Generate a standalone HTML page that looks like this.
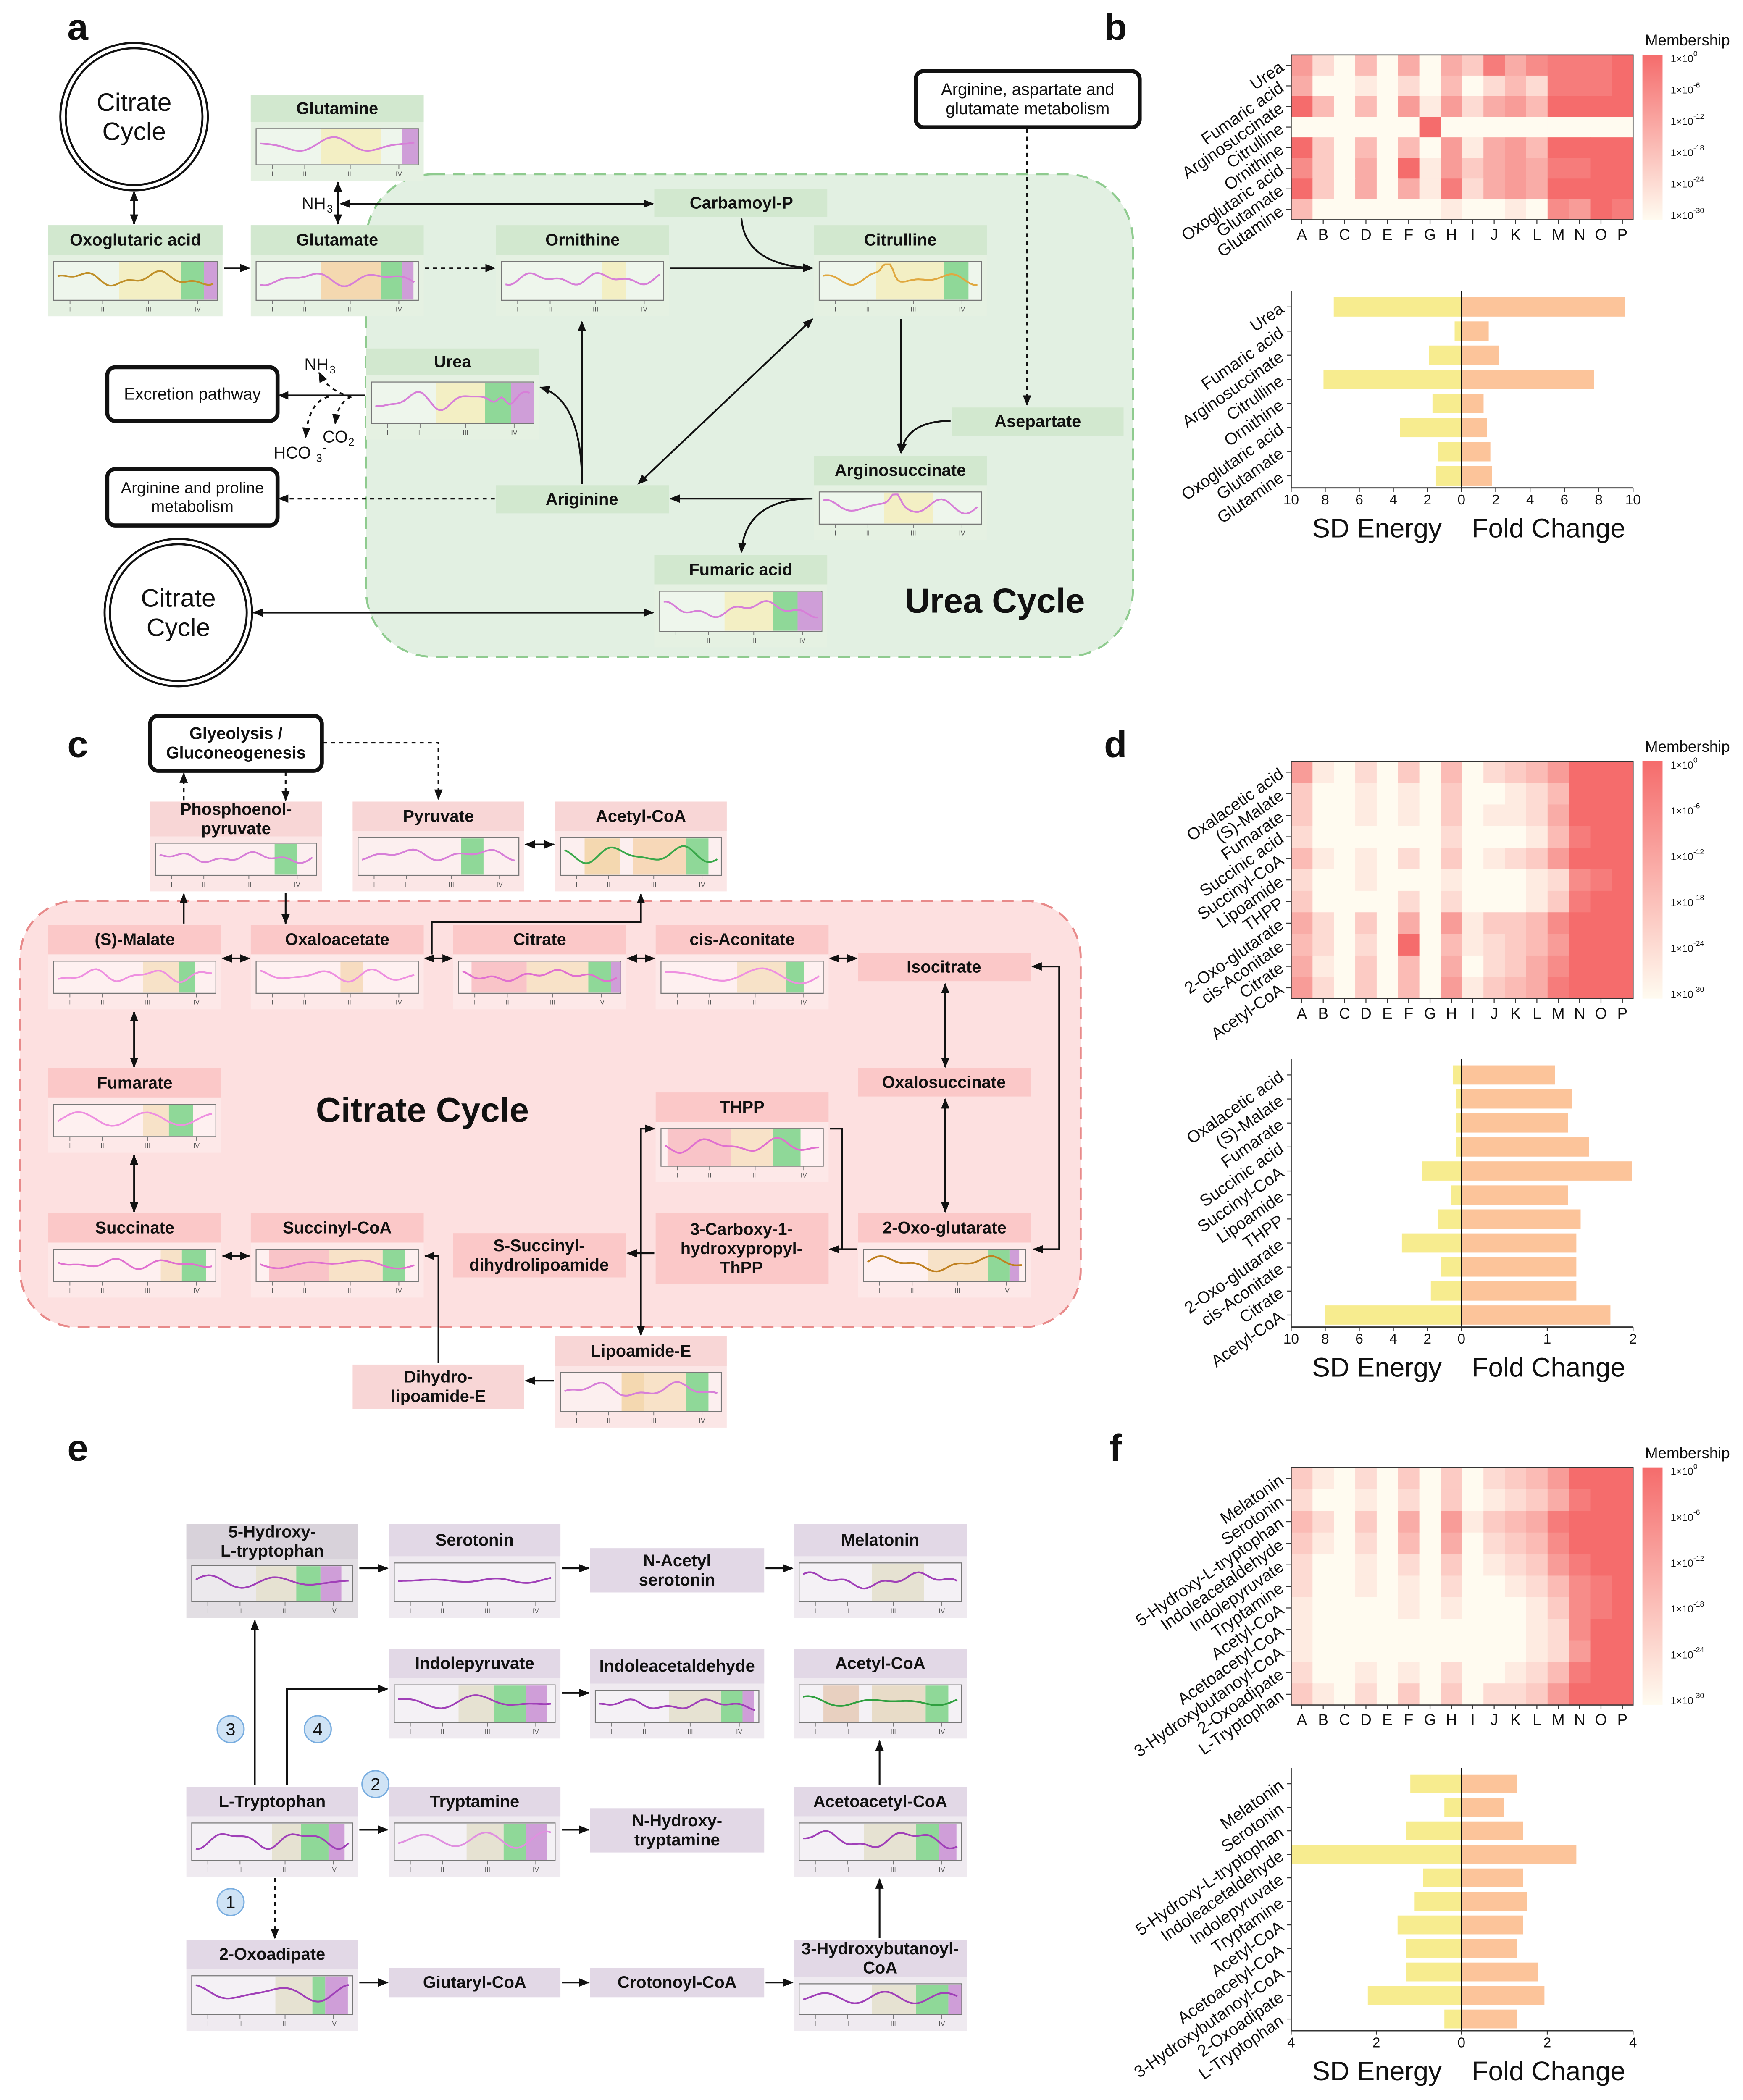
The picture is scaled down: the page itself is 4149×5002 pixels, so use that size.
<!DOCTYPE html>
<html><head><meta charset="utf-8"><style>
html,body{margin:0;padding:0;background:#fff;width:4149px;height:5002px;overflow:hidden}
svg{display:block}
text{font-family:"Liberation Sans",Arial,sans-serif}
</style></head><body>
<svg id="s" xmlns="http://www.w3.org/2000/svg" width="4149" height="5002" viewBox="0 0 1300 1567.3">
<defs>
<marker id="ah" viewBox="0 0 10 10" refX="9" refY="5" markerWidth="6" markerHeight="6" orient="auto-start-reverse"><path d="M0,1 L10,5 L0,9 z" fill="#111"/></marker>
<linearGradient id="cb" x1="0" y1="0" x2="0" y2="1"><stop offset="0" stop-color="#f56c6c"/><stop offset="1" stop-color="#fffbf0"/></linearGradient>
</defs>
<rect x="0" y="0" width="1300" height="1568" fill="#fff"/>
<rect x="273" y="130" width="572" height="360" rx="50" fill="#e2f0e2" stroke="#8fcb8f" stroke-width="1.5" stroke-dasharray="9,6"/>
<rect x="15" y="672" width="791" height="318" rx="42" fill="#fde0e0" stroke="#e88a8a" stroke-width="1.5" stroke-dasharray="9,6"/>
<g id="g"></g>
</svg>
<script>
var NS="http://www.w3.org/2000/svg",G=document.getElementById("g");
function el(tag,a,txt){var e=document.createElementNS(NS,tag);for(var k in a)e.setAttribute(k,a[k]);if(txt!=null)e.textContent=txt;G.appendChild(e);return e;}
function T(x,y,s,sz,o){o=o||{};var lines=String(s).split("\n");var lh=sz*1.15;var y0=y-(lines.length-1)*lh/2;
 lines.forEach(function(l,i){el("text",{x:x,y:y0+i*lh,"font-size":sz,"text-anchor":o.a||"middle","dominant-baseline":"central","font-weight":o.b?"bold":"normal",fill:o.c||"#111",transform:o.tr||""},l);});}
function L(d,o){o=o||{};var a={d:d,fill:"none",stroke:"#111","stroke-width":o.w||1.3};if(o.dash)a["stroke-dasharray"]="3,3";if(o.e!==false)a["marker-end"]="url(#ah)";if(o.s)a["marker-start"]="url(#ah)";el("path",a);}
var seed=1;function rnd(){seed=(seed*9301+49297)%233280;return seed/233280;}
function chart(x,y,w,h,bands,col,sd,peak){
 el("rect",{x:x,y:y,width:w,height:h,fill:"rgba(255,255,255,0.35)",stroke:"#777","stroke-width":0.7});
 bands.forEach(function(b){el("rect",{x:x+w*b[0],y:y+0.5,width:w*(b[1]-b[0]),height:h-1,fill:b[2]});});
 seed=sd;var a1=8+rnd()*10,a2=15+rnd()*15,p1=rnd()*6,p2=rnd()*6,am=0.08+rnd()*0.1;var d="";
 for(var i=0;i<=60;i++){var t=i/60;var v=0.45+am*Math.sin(t*a1+p1)+0.07*Math.sin(t*a2+p2);
  if(peak){var dd=(t-peak[0])/0.04;v-=peak[1]*Math.exp(-dd*dd);}
  var px=x+3+t*(w-6),py=y+h*Math.min(0.92,Math.max(0.08,v));d+=(i?"L":"M")+px.toFixed(1)+","+py.toFixed(1);}
 el("path",{d:d,fill:"none",stroke:col,"stroke-width":1.3});
 [0.1,0.3,0.58,0.88].forEach(function(f,i){el("line",{x1:x+w*f,y1:y+h,x2:x+w*f,y2:y+h+3,stroke:"#777","stroke-width":0.6});
  T(x+w*f,y+h+7,["I","II","III","IV"][i],5,{c:"#555"});});
}
function node(x,y,w,h,lab,hc,bc,hh,ch){
 el("rect",{x:x,y:y,width:w,height:h,fill:bc});
 el("rect",{x:x,y:y,width:w,height:hh,fill:hc});
 T(x+w/2,y+hh/2,lab,12.5,{b:1});
 if(ch)chart(x+4,y+hh+5,w-8,h-hh-17,ch[0],ch[1],ch[2],ch[3]);
}
function box2(x,y,w,h,lab,sz){el("rect",{x:x,y:y,width:w,height:h,rx:6,fill:"#fff",stroke:"#111","stroke-width":3});
 el("rect",{x:x+2.5,y:y+2.5,width:w-5,height:h-5,rx:4,fill:"#fff",stroke:"#fff","stroke-width":1.2});
 T(x+w/2,y+h/2,lab,sz||12.5,{b:sz?0:1});}
function circ(cx,cy,r,lab){el("circle",{cx:cx,cy:cy,r:r,fill:"#fff",stroke:"#111","stroke-width":1.5});el("circle",{cx:cx,cy:cy,r:r-4,fill:"#fff",stroke:"#111","stroke-width":1.5});T(cx,cy,lab,19);}
var Y="#f3efc4",O="#f4d8b0",GR="#8fd898",P="#cf9ed8",PK="#f8c8c8",GY="#e6e2d2";
T(58,20,"a",28,{b:1});T(832,20,"b",28,{b:1});
circ(100,87,55,"Citrate\nCycle");circ(133,457,55,"Citrate\nCycle");
var ha="#d2e8cf",ba="#e5f1e2";
node(187,71,129,64,"Glutamine",ha,ba,20,[[[0.4,0.77,Y],[0.9,1,P]],"#d77fd8",3]);
node(36,168,130,68,"Oxoglutaric acid",ha,ba,22,[[[0.4,0.78,Y],[0.78,0.92,GR],[0.92,1,P]],"#c0902a",5]);
node(187,168,129,68,"Glutamate",ha,ba,22,[[[0.4,0.77,O],[0.77,0.9,GR],[0.9,0.97,P]],"#d77fd8",7]);
node(370,168,129,68,"Ornithine",ha,ba,22,[[[0.62,0.77,Y]],"#d77fd8",11]);
node(607,168,129,68,"Citrulline",ha,ba,22,[[[0.35,0.77,Y],[0.77,0.92,GR]],"#e0a840",13,[0.42,0.5]]);
node(273,260,129,68,"Urea",ha,ba,20,[[[0.4,0.7,Y],[0.7,0.86,GR],[0.86,1,P]],"#d77fd8",17,[0.82,0.3]]);
node(607,340,129,63,"Arginosuccinate",ha,ba,22,[[[0.4,0.7,Y]],"#d77fd8",19,[0.47,0.35]]);
node(488,414,129,69,"Fumaric acid",ha,ba,22,[[[0.4,0.7,Y],[0.7,0.85,GR],[0.85,1,P]],"#d77fd8",23]);
el("rect",{x:488,y:141,width:129,height:21,fill:ha});T(553,151.5,"Carbamoyl-P",12.5,{b:1});
el("rect",{x:370,y:362,width:129,height:21,fill:ha});T(434,372.5,"Ariginine",12.5,{b:1});
el("rect",{x:710,y:304,width:128,height:21,fill:ha});T(774,314.5,"Asepartate",12.5,{b:1});
box2(80,274,127,40,"Excretion pathway",12.5);
box2(80,350,127,42,"Arginine and proline\nmetabolism",12);
box2(683,53,167,42,"Arginine, aspartate and\nglutamate metabolism",12.5);
T(742,448,"Urea Cycle",26,{b:1});
T(234,152,"NH",12.5);T(246,156,"3",8);T(236,272,"NH",12.5);T(248,276,"3",8);
T(250,326,"CO",12.5);T(262,330,"2",8);T(218,338,"HCO",12.5);T(238,342,"3",8);T(242,334,"-",8);
L("M100,143 V167",{s:1});L("M252,136 V167",{s:1});L("M254,152 H487",{s:1});
L("M167,200 H186");L("M317,200 H369",{dash:1});L("M500,200 H606");
L("M553,163 Q556,198 606,200");L("M672,238 V338");L("M709,314 Q676,314 672,338");
L("M766,96 V302",{dash:1});L("M606,372 H500");L("M606,372 Q556,372 553,412");
L("M434,361 V240");L("M476,361 L606,238",{s:1});L("M434,361 Q434,298 403,289");
L("M272,295 H208");L("M369,372 H208",{dash:1});L("M189,457 H487",{s:1});
L("M262,296 Q245,292 238,278",{dash:1});L("M262,296 Q252,300 250,316",{dash:1});L("M245,296 Q230,300 228,326",{dash:1});
T(58,555,"c",28,{b:1});T(832,555,"d",28,{b:1});
var hp="#fbc8c8",bp="#fde8e8",hp2="#f8d6d6",bp2="#fbe6e6";
box2(112,534,128,41,"Glyeolysis /\nGluconeogenesis");
node(112,598,128,67,"Phosphoenol-\npyruvate",hp2,bp2,26,[[[0.74,0.88,GR]],"#d77fd8",29]);
node(263,598,128,67,"Pyruvate",hp2,bp2,22,[[[0.64,0.78,GR]],"#d77fd8",31]);
node(414,598,128,67,"Acetyl-CoA",hp2,bp2,22,[[[0.15,0.37,O],[0.45,0.78,"#f7d8b8"],[0.78,0.92,GR]],"#3aa84a",37]);
node(36,690,129,63,"(S)-Malate",hp,bp,22,[[[0.55,0.77,"#f7e2c8"],[0.77,0.87,GR]],"#ee90e0",41]);
node(187,690,129,63,"Oxaloacetate",hp,bp,22,[[[0.52,0.66,"#f7dcc0"]],"#ee90e0",43]);
node(338,690,129,63,"Citrate",hp,bp,22,[[[0.08,0.42,"#f9c4c8"],[0.42,0.8,"#f8e2c8"],[0.8,0.94,GR],[0.94,1,P]],"#e070d0",47]);
node(489,690,129,63,"cis-Aconitate",hp,bp,22,[[[0.47,0.77,"#f7e2c8"],[0.77,0.88,GR]],"#ee90e0",53]);
node(36,797,129,63,"Fumarate",hp,bp,22,[[[0.55,0.71,"#f7e2c8"],[0.71,0.86,GR]],"#ee90e0",59]);
node(489,815,129,67,"THPP",hp,bp,22,[[[0.04,0.43,"#f9c4c8"],[0.43,0.69,"#f8e2c8"],[0.69,0.86,GR]],"#e070d0",61]);
node(36,905,129,63,"Succinate",hp,bp,22,[[[0.66,0.79,"#f7e2c8"],[0.79,0.94,GR]],"#e070d0",67]);
node(187,905,129,63,"Succinyl-CoA",hp,bp,22,[[[0.08,0.45,"#f9c4c8"],[0.45,0.78,"#f8e2c8"],[0.78,0.92,GR]],"#e070d0",71]);
node(640,905,129,63,"2-Oxo-glutarate",hp,bp,22,[[[0.4,0.77,"#f7e2c8"],[0.77,0.9,GR],[0.9,0.96,P]],"#c08020",73]);
node(414,997,128,68,"Lipoamide-E",hp2,bp2,22,[[[0.38,0.52,O],[0.52,0.78,"#f8e2c8"],[0.78,0.92,GR]],"#d77fd8",79]);
el("rect",{x:640,y:711,width:129,height:21,fill:hp});T(704,721.5,"Isocitrate",12.5,{b:1});
el("rect",{x:640,y:797,width:129,height:21,fill:hp});T(704,807.5,"Oxalosuccinate",12.5,{b:1});
el("rect",{x:338,y:920,width:129,height:33,fill:hp});T(402,936.5,"S-Succinyl-\ndihydrolipoamide",12.5,{b:1});
el("rect",{x:489,y:905,width:129,height:53,fill:hp});T(553,931.5,"3-Carboxy-1-\nhydroxypropyl-\nThPP",12.5,{b:1});
el("rect",{x:263,y:1018,width:128,height:33,fill:hp2});T(327,1034.5,"Dihydro-\nlipoamide-E",12.5,{b:1});
T(315,828,"Citrate Cycle",26,{b:1});
L("M137,597 V577",{dash:1});L("M213,576 V597",{dash:1});L("M241,554 H327 V596",{dash:1});
L("M137,689 V667");L("M213,666 V689");L("M392,630 H413",{s:1});
L("M166,715 H186",{s:1});L("M317,715 H337",{s:1});L("M322,712 V688 H478 V667",{e:1});L("M468,715 H488",{s:1});L("M619,715 H639",{s:1});
L("M705,734 V796",{s:1});L("M705,820 V904",{s:1});L("M770,721 H790 V932 H771",{s:1});
L("M639,932 H619");L("M619,842 H628 V932",{e:false});L("M488,935 H468");
L("M488,842 H478 V996",{s:1});L("M413,1030 H392");L("M327,1017 V937 H317");
L("M100,755 V796",{s:1});L("M100,862 V904",{s:1});L("M166,937 H186",{s:1});
T(58,1080,"e",28,{b:1});T(832,1080,"f",28,{b:1});
var he="#e2d8e6",be="#efeaf0",V="#a040b8",V2="#d77fd8";
node(139,1137,128,70,"5-Hydroxy-\nL-tryptophan","#d8d2da","#e2dee3",26,[[[0.4,0.65,GY],[0.65,0.8,GR],[0.8,0.93,P]],V,83]);
node(290,1137,128,70,"Serotonin",he,be,24,[[],V,89]);
node(592,1137,129,70,"Melatonin",he,be,24,[[[0.45,0.77,GY]],V,97]);
node(290,1230,128,67,"Indolepyruvate",he,be,22,[[[0.4,0.62,GY],[0.62,0.82,GR],[0.82,0.95,P]],V,101]);
node(440,1230,130,67,"Indoleacetaldehyde",he,be,26,[[[0.45,0.77,GY],[0.77,0.9,GR],[0.9,0.97,P]],V,103]);
node(592,1230,129,67,"Acetyl-CoA",he,be,22,[[[0.15,0.37,"#e8d0c0"],[0.45,0.78,"#e8dcc8"],[0.78,0.92,GR]],"#30a040",107]);
node(139,1333,128,67,"L-Tryptophan",he,be,22,[[[0.5,0.68,GY],[0.68,0.85,GR],[0.85,0.95,P]],V,109]);
node(290,1333,128,67,"Tryptamine",he,be,22,[[[0.45,0.68,GY],[0.68,0.82,GR],[0.82,0.95,P]],"#e090e0",113]);
node(592,1333,129,67,"Acetoacetyl-CoA",he,be,22,[[[0.4,0.72,GY],[0.72,0.86,GR],[0.86,0.97,P]],V,127]);
node(139,1447,128,68,"2-Oxoadipate",he,be,22,[[[0.52,0.75,GY],[0.75,0.83,GR],[0.83,0.97,P]],V,131]);
node(592,1447,129,68,"3-Hydroxybutanoyl-\nCoA",he,be,28,[[[0.45,0.72,GY],[0.72,0.92,GR],[0.92,1,P]],V,137]);
el("rect",{x:440,y:1155,width:130,height:33,fill:he});T(505,1171.5,"N-Acetyl\nserotonin",12.5,{b:1});
el("rect",{x:440,y:1349,width:130,height:33,fill:he});T(505,1365.5,"N-Hydroxy-\ntryptamine",12.5,{b:1});
el("rect",{x:290,y:1468,width:128,height:22,fill:he});T(354,1479,"Giutaryl-CoA",12.5,{b:1});
el("rect",{x:440,y:1468,width:130,height:22,fill:he});T(505,1479,"Crotonoyl-CoA",12.5,{b:1});
L("M268,1170 H289");L("M419,1170 H439");L("M571,1170 H591");L("M419,1263 H439");
L("M190,1332 V1209");L("M214,1332 V1260 H289");L("M268,1365 H289");L("M419,1365 H439");
L("M205,1401 V1446",{dash:1});L("M268,1479 H289");L("M419,1479 H439");L("M571,1479 H591");
L("M656,1332 V1299");L("M656,1446 V1402");
[[172,1419,"1"],[280,1331,"2"],[172,1290,"3"],[237,1290,"4"]].forEach(function(c){el("circle",{cx:c[0],cy:c[1],r:10,fill:"#cfe3f5",stroke:"#7aaee0","stroke-width":1});T(c[0],c[1],c[2],13);});
function hcol(v){var a=[255,251,240],b=[245,108,108];var f=v/9;return "rgb("+a.map(function(c,i){return Math.round(c+(b[i]-c)*f)}).join(",")+")";}
function hm(x,y,w,h,labs,rows){var n=rows.length,cw=w/16,rh=h/n;
 rows.forEach(function(r,i){for(var j=0;j<16;j++){el("rect",{x:x+j*cw,y:y+i*rh,width:cw+0.3,height:rh+0.3,fill:hcol(+r[j])});}
  el("line",{x1:x-4,y1:y+(i+.5)*rh,x2:x,y2:y+(i+.5)*rh,stroke:"#333","stroke-width":0.7});
  T(x-7,y+(i+.5)*rh,labs[i],12.5,{a:"end",tr:"rotate(-35 "+(x-7)+" "+(y+(i+.5)*rh)+")"});});
 el("rect",{x:x,y:y,width:w,height:h,fill:"none",stroke:"#333","stroke-width":0.8});
 "ABCDEFGHIJKLMNOP".split("").forEach(function(c,j){el("line",{x1:x+(j+.5)*cw,y1:y+h,x2:x+(j+.5)*cw,y2:y+h+3,stroke:"#333","stroke-width":0.7});T(x+(j+.5)*cw,y+h+11,c,11.5);});
 el("rect",{x:1225,y:y,width:15,height:h,fill:"url(#cb)"});T(1227,y-11,"Membership",11.5,{a:"start"});
 ["0","-6","-12","-18","-24","-30"].forEach(function(e,k){var yy=y+3+k*(h-6)/5;T(1246,yy,"1×10",7.5,{a:"start"});T(1263,yy-4,e,5.5,{a:"start"});});
}
function bars(y0,y1,labs,sd,fc,sm,fm,tl,tr){var x0=963,xc=1090,x1=1218,n=labs.length,rh=(y1-y0)/n;
 labs.forEach(function(l,i){var yc=y0+(i+.5)*rh;
  el("rect",{x:xc-127*sd[i]/sm,y:yc-rh*0.4,width:127*sd[i]/sm,height:rh*0.8,fill:"#f7ec8f"});
  el("rect",{x:xc,y:yc-rh*0.4,width:127*fc[i]/fm,height:rh*0.8,fill:"#fcc49a"});
  el("line",{x1:x0-3,y1:yc,x2:x0,y2:yc,stroke:"#333","stroke-width":0.7});
  T(x0-7,yc,l,12.5,{a:"end",tr:"rotate(-35 "+(x0-7)+" "+yc+")"});});
 el("line",{x1:xc,y1:y0-3,x2:xc,y2:y1,stroke:"#111","stroke-width":1});
 el("path",{d:"M"+x0+","+(y0-3)+" V"+y1+" H"+x1,fill:"none",stroke:"#333","stroke-width":0.9});
 tl.forEach(function(t,k){var xx=x0+k*(xc-x0)/(tl.length-1);el("line",{x1:xx,y1:y1,x2:xx,y2:y1+3,stroke:"#333","stroke-width":0.7});T(xx,y1+9,t,10.5);});
 tr.forEach(function(t,k){if(!k)return;var xx=xc+k*(x1-xc)/(tr.length-1);el("line",{x1:xx,y1:y1,x2:xx,y2:y1+3,stroke:"#333","stroke-width":0.7});T(xx,y1+9,t,10.5);});
 T(1027,y1+30,"SD Energy",20);T(1155,y1+30,"Fold Change",20);}
var lb=["Urea","Fumaric acid","Arginosuccinate","Citrulline","Ornithine","Oxoglutaric acid","Glutamate","Glutamine"];
hm(963,41,255,123,lb,["6204050538578889","5001020402428889","9404061625649999","0000009000000000","9304040615649999","7305091635658899","9305051825659999","4000000100107698"]);
bars(220,364,lb,[7.5,0.4,1.9,8.1,1.7,3.6,1.4,1.5],[9.6,1.6,2.2,7.8,1.3,1.5,1.7,1.8],10,10,["10","8","6","4","2","0"],["0","2","4","6","8","10"]);
var ld=["Oxalacetic acid","(S)-Malate","Fumarate","Succinic acid","Succinyl-CoA","Lipoamide","THPP","2-Oxo-glutarate","cis-Aconitate","Citrate","Acetyl-CoA"];
hm(963,568,255,177,ld,["6102030402346999","3001010300124999","3001010301125999","2000000200014899","4101020301236999","2001000100012789","3000020200013899","5203050613347999","4202090412346999","5103040502357999","6203040613458999"]);
bars(793,990,ld,[0.5,0.3,0.3,0.3,2.3,0.6,1.4,3.5,1.2,1.8,8],[1.1,1.3,1.25,1.5,2.0,1.25,1.4,1.35,1.35,1.35,1.75],10,2,["10","8","6","4","2","0"],["0","1","2"]);
var lf=["Melatonin","Serotonin","5-Hydroxy-L-tryptophan","Indoleacetaldehyde","Indolepyruvate","Tryptamine","Acetyl-CoA","Acetoacetyl-CoA","3-Hydroxybutanoyl-CoA","2-Oxoadipate","L-Tryptophan"];
hm(963,1095,255,177,lf,["3102030302346999","2001020301235899","4203050613458999","3102040502347999","2001020301236899","2001010200124789","1000010100013789","1000000000012799","1000000000012699","2001010200124899","3102030302236999"]);
bars(1322,1515,lf,[1.2,0.4,1.3,4,0.9,1.1,1.5,1.3,1.3,2.2,0.4],[1.3,1.0,1.45,2.7,1.45,1.55,1.45,1.3,1.8,1.95,1.3],4,4,["4","2","0"],["0","2","4"]);
</script>
</body></html>
